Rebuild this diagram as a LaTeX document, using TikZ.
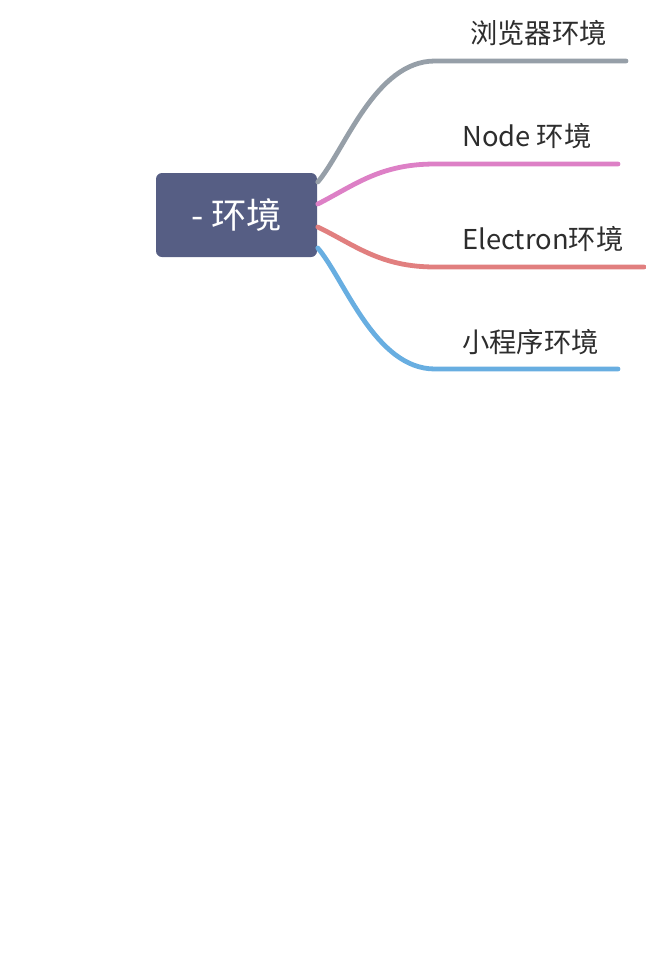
\documentclass[tikz,border=0pt]{standalone}
\usepackage{fontspec}
\setmainfont{Noto Sans CJK SC}
\usetikzlibrary{calc}
\definecolor{rootfill}{RGB}{86,94,132}
\definecolor{cgray}{RGB}{150,159,168}
\definecolor{cpink}{RGB}{221,128,198}
\definecolor{cred}{RGB}{225,127,127}
\definecolor{cblue}{RGB}{104,174,225}
\definecolor{txt}{RGB}{45,45,45}
\begin{document}
\begin{tikzpicture}[x=0.75pt,y=-0.75pt,
  rootbox/.style={fill=rootfill,rounded corners=4.5pt,minimum width=120.75pt,minimum height=63pt,inner sep=0pt,text=white,font=\fontsize{26.5}{30}\selectfont},
  leaf/.style={text=txt,font=\fontsize{20.5}{24}\selectfont,inner sep=0pt,anchor=west},
  branch/.style={line width=3.6pt,line cap=round}]
\useasboundingbox (0,0) rectangle (646,968);
\node[rootbox] (root) at (236.5,215) {- 环境};
\node[leaf] (l1) at (470,33) {浏览器环境};
\node[leaf] (l2) at (462,136) {Node 环境};
\node[leaf] (l3) at (462,239) {Electron环境};
\node[leaf] (l4) at (462,342) {小程序环境};
\coordinate (e1) at (626,61);
\coordinate (e2) at (618,164);
\coordinate (e3) at (644,267);
\coordinate (e4) at (618,369);
\draw[branch,cgray] ($(root.east)+(0.5,-33)$) .. controls (345,150) and (375,61) .. (435,61) -- (e1);
\draw[branch,cpink] ($(root.east)+(0.5,-11)$) .. controls (355,185) and (380,164) .. (435,164) -- (e2);
\draw[branch,cred] ($(root.east)+(0.5,12)$) .. controls (355,245) and (380,267) .. (435,267) -- (e3);
\draw[branch,cblue] ($(root.east)+(0.5,33)$) .. controls (345,280) and (375,369) .. (435,369) -- (e4);
\end{tikzpicture}
\end{document}
